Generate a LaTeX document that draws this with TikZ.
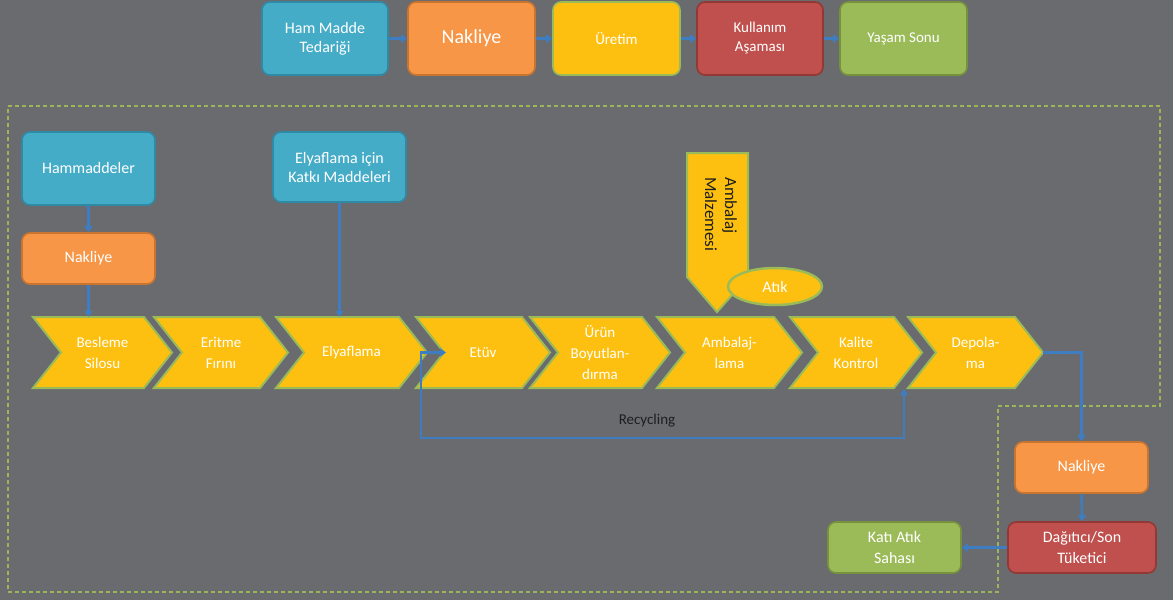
\documentclass[tikz,border=0pt]{standalone}
\usepackage{fontspec}
\setmainfont{Carlito}
\usetikzlibrary{arrows.meta,shapes.geometric,calc}
\definecolor{bg}{HTML}{6A6B6F}
\definecolor{tealF}{HTML}{45ACC8}
\definecolor{tealD}{HTML}{2F8AA6}
\definecolor{oranF}{HTML}{F79646}
\definecolor{oranD}{HTML}{C9742F}
\definecolor{yelF}{HTML}{FDC010}
\definecolor{grnL}{HTML}{9BBB59}
\definecolor{redF}{HTML}{C0504D}
\definecolor{redD}{HTML}{943835}
\definecolor{grnF}{HTML}{9BBB59}
\definecolor{grnD}{HTML}{76923C}
\definecolor{conB}{HTML}{3F7DC2}
\definecolor{dashC}{HTML}{9DB55A}
\definecolor{darkT}{HTML}{1E1E1E}
\tikzset{
  box/.style={rounded corners=8pt, line width=1.6pt, text=white, align=center,
    inner sep=0pt, font=\fontsize{16}{19}\selectfont},
  tealbox/.style={box, fill=tealF, draw=tealD},
  oranbox/.style={box, fill=oranF, draw=oranD},
  yelbox/.style={box, fill=yelF, draw=grnL},
  redbox/.style={box, fill=redF, draw=redD},
  grnbox/.style={box, fill=grnF, draw=grnD},
  chevshape/.style={fill=yelF, draw=grnL, line width=2pt, line join=miter},
  chevtext/.style={text=white, align=center, inner sep=0pt,
    font=\fontsize{15}{21}\selectfont, minimum height=71pt},
  conn/.style={draw=conB, line width=2.4pt, -{Triangle[width=8pt,length=6pt]}},
  region/.style={draw=dashC, line width=1.2pt, dash pattern=on 4pt off 3pt},
}
\begin{document}
\begin{tikzpicture}[x=1pt,y=-1pt]
\fill[bg] (0,0) rectangle (1173,600);
\useasboundingbox (0,0) rectangle (1173,600);

% dashed region
\draw[region] (8,106) -- (1160,106) -- (1160,406) -- (998,406) -- (998,592) -- (8,592) -- cycle;

% top row
\node[tealbox, minimum width=126pt, minimum height=73pt] (hm) at (325,38.5) {Ham Madde\\Tedariği};
\node[oranbox, minimum width=127pt, minimum height=73pt, font=\fontsize{20}{22}\selectfont] (nk1) at (471.5,38.5) {Nakliye};
\node[yelbox, minimum width=127pt, minimum height=73pt, font=\fontsize{15}{18}\selectfont] (ur) at (616.5,38.5) {Üretim};
\node[redbox, minimum width=126pt, minimum height=73pt, font=\fontsize{15}{19}\selectfont] (ku) at (760,38.5) {Kullanım\\Aşaması};
\node[grnbox, minimum width=127pt, minimum height=73pt, font=\fontsize{15}{18}\selectfont] (ys) at (903.5,38.5) {Yaşam Sonu};
\draw[conn] (hm) -- (nk1);
\draw[conn] (nk1) -- (ur);
\draw[conn] (ur) -- (ku);
\draw[conn] (ku) -- (ys);

% inner boxes
\node[tealbox, minimum width=133pt, minimum height=73pt] (hmd) at (88.5,168.5) {Hammaddeler};
\node[oranbox, minimum width=133pt, minimum height=51pt] (nk2) at (88.5,258.5) {Nakliye};
\node[tealbox, minimum width=133pt, minimum height=70pt] (katki) at (339.5,167) {Elyaflama için\\Katkı Maddeleri};

% chevrons
\foreach \n/\l/\t/\txt in {bs/33/172/{Besleme\\Silosu}, er/154/288/{Eritme\\Fırını},
  el/276/427/{Elyaflama}, et/416/550/{Etüv}, ub/530/670/{Ürün\\Boyutlan-\\dırma},
  amb/657/802/{Ambalaj-\\lama}, kk/790/922/{Kalite\\Kontrol}, dp/908/1043/{Depola-\\ma}}{
  \draw[chevshape] (\l,317) -- ({\t-28},317) -- (\t,352.5) -- ({\t-28},388) -- (\l,388) -- ({\l+28},352.5) -- cycle;
  \node[chevtext, minimum width={\t-\l}] (\n) at ({(\l+\t)/2},352.5) {\txt};
}

% packaging material arrow
\draw[chevshape] (687,153) -- (748,153) -- (748,277) -- (717,312) -- (687,277) -- cycle;
\node[rotate=-90, anchor=north west, align=left, inner sep=0pt, text=darkT,
  font=\fontsize{17}{20}\selectfont] (amz) at (737,177) {Ambalaj\\Malzemesi};
\node[ellipse, fill=yelF, draw=grnL, line width=2.5pt, minimum width=94pt, minimum height=37pt,
  inner sep=0pt, text=white, font=\fontsize{16}{18}\selectfont] (atik) at (775,286.5) {Atık};

% connectors
\draw[conn] (hmd.south) -- (nk2.north);
\draw[conn] (nk2.south) -- (nk2.south |- bs.north);
\draw[conn] (katki.south) -- (katki.south |- el.north);

\coordinate (re) at (446,352.5);
\coordinate (rk) at (904,389);
\draw[conn, {Triangle[width=8pt,length=6pt]}-{Triangle[width=8pt,length=6pt]}]
  (re) -- (421,352.5) -- (421,438) -- (904,438) -- (rk);
\node[text=darkT, font=\fontsize{15}{18}\selectfont] (rec) at (647,421) {Recycling};

% end of life
\node[oranbox, minimum width=133pt, minimum height=51pt] (nk3) at (1081.5,467.5) {Nakliye};
\node[redbox, minimum width=148pt, minimum height=51pt, font=\fontsize{16}{21}\selectfont] (dg) at (1082,547.5) {Dağıtıcı/Son\\Tüketici};
\node[grnbox, minimum width=133pt, minimum height=51pt, font=\fontsize{16}{21}\selectfont] (ka) at (894.5,547.5) {Katı Atık\\Sahası};

\draw[conn] (dp.east) -- (dp.east -| nk3.north) -- (nk3.north);
\draw[conn] (nk3.south) -- (dg.north);
\draw[conn] (dg.west) -- (ka.east);
\end{tikzpicture}
\end{document}
